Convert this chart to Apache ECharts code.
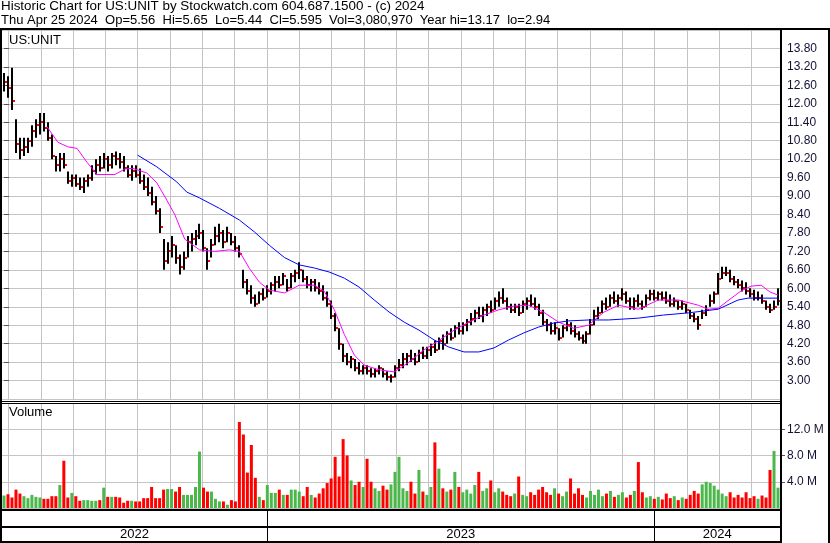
<!DOCTYPE html>
<html>
<head>
<meta charset="utf-8">
<script src="https://cdn.jsdelivr.net/npm/echarts@6/dist/echarts.min.js"></script>
<style>
  html, body { margin: 0; padding: 0; background: #fff; }
  #chart { width: 830px; height: 543px; }
</style>
</head>
<body>
<div id="chart"></div>
<script>
// one entry per ~2.6 trading days, Apr 2022 -> Apr 25 2024
const highs = [
  13.0,12.9,13.17,11.5,10.9,10.9,10.9,11.3,11.5,11.7,
  11.7,11.4,11.0,10.3,10.4,10.4,9.8,9.7,9.7,9.6,
  9.6,9.7,10.0,10.2,10.3,10.4,10.3,10.4,10.45,10.4,
  10.3,10.0,10.0,10.0,9.9,9.7,9.6,9.3,9.0,8.6,
  7.6,7.5,7.7,7.4,7.1,7.2,7.7,7.8,7.9,8.1,
  7.9,7.3,7.6,8.0,8.1,7.9,8.0,7.8,7.7,7.4,
  6.6,6.3,6.1,5.8,5.9,6.0,6.1,6.2,6.4,6.4,
  6.5,6.3,6.5,6.6,6.85,6.6,6.4,6.3,6.3,6.2,
  6.1,5.9,5.6,5.2,4.7,4.2,3.9,3.8,3.7,3.6,
  3.5,3.5,3.4,3.4,3.5,3.4,3.3,3.2,3.5,3.7,
  3.9,3.9,4.0,3.9,4.0,4.1,4.1,4.2,4.3,4.4,
  4.5,4.6,4.7,4.8,4.9,4.9,5.0,5.2,5.3,5.4,
  5.4,5.5,5.6,5.7,5.9,6.0,5.7,5.5,5.5,5.5,
  5.6,5.7,5.8,5.7,5.5,5.3,5.0,4.9,4.9,4.7,
  4.8,5.0,4.9,4.8,4.6,4.5,4.6,5.0,5.3,5.4,
  5.6,5.7,5.8,5.9,5.8,6.0,5.9,5.7,5.7,5.8,
  5.6,5.8,5.95,5.95,5.9,5.9,5.9,5.8,5.7,5.6,
  5.6,5.5,5.3,5.2,5.1,5.3,5.45,5.8,5.9,6.5,
  6.7,6.7,6.6,6.4,6.3,6.25,6.2,6.0,5.95,5.9,
  5.8,5.6,5.5,5.6,6.0
];
const lows = [
  12.4,12.2,11.8,10.4,10.2,10.3,10.4,10.6,10.9,11.0,
  11.1,10.8,10.2,9.8,9.8,9.9,9.4,9.3,9.3,9.2,
  9.1,9.3,9.5,9.7,9.8,9.9,9.8,9.9,10.0,9.9,
  9.8,9.6,9.5,9.6,9.4,9.2,9.0,8.7,8.4,7.8,
  6.6,6.8,7.0,6.8,6.45,6.6,7.0,7.2,7.4,7.6,
  7.2,6.6,7.0,7.4,7.5,7.3,7.5,7.4,7.2,7.0,
  6.0,5.8,5.5,5.4,5.5,5.6,5.7,5.8,5.9,6.0,
  6.1,5.9,6.0,6.2,6.3,6.2,6.0,5.9,5.9,5.8,
  5.6,5.4,5.0,4.6,4.0,3.6,3.5,3.4,3.3,3.2,
  3.2,3.2,3.1,3.1,3.2,3.1,3.0,2.94,3.1,3.3,
  3.4,3.5,3.6,3.5,3.6,3.7,3.7,3.8,3.9,4.0,
  4.0,4.2,4.3,4.4,4.5,4.5,4.6,4.8,4.9,5.0,
  4.9,5.1,5.2,5.3,5.4,5.5,5.3,5.2,5.2,5.1,
  5.2,5.3,5.4,5.3,5.1,4.8,4.6,4.5,4.5,4.3,
  4.4,4.6,4.5,4.4,4.3,4.2,4.2,4.5,4.8,5.0,
  5.2,5.3,5.4,5.5,5.4,5.6,5.5,5.3,5.3,5.4,
  5.3,5.4,5.6,5.6,5.6,5.6,5.5,5.4,5.4,5.3,
  5.3,5.2,5.0,4.9,4.65,5.0,5.1,5.4,5.5,5.8,
  6.3,6.4,6.2,6.1,6.0,5.9,5.8,5.7,5.6,5.6,
  5.5,5.3,5.2,5.3,5.44
];
const closes = [
  12.7,12.5,12.1,10.7,10.5,10.6,10.8,11.1,11.3,11.4,
  11.2,10.9,10.3,10.0,10.2,10.0,9.5,9.6,9.4,9.3,
  9.5,9.6,9.8,10.0,9.9,10.2,10.0,10.3,10.2,10.1,
  9.9,9.7,9.8,9.7,9.5,9.3,9.1,8.8,8.5,8.0,
  6.9,7.2,7.4,7.0,6.7,7.0,7.5,7.6,7.7,7.8,
  7.3,6.9,7.4,7.7,7.8,7.5,7.8,7.5,7.3,7.1,
  6.2,5.9,5.7,5.5,5.8,5.7,5.9,6.1,6.2,6.1,
  6.4,6.0,6.4,6.5,6.6,6.3,6.1,6.2,6.0,5.9,
  5.7,5.5,5.1,4.7,4.2,3.8,3.6,3.7,3.4,3.3,
  3.4,3.3,3.2,3.3,3.4,3.2,3.1,3.1,3.4,3.5,
  3.7,3.8,3.7,3.6,3.9,3.8,4.0,4.1,4.0,4.3,
  4.2,4.5,4.4,4.7,4.6,4.8,4.9,5.0,5.2,5.1,
  5.3,5.4,5.3,5.6,5.7,5.6,5.4,5.3,5.4,5.2,
  5.5,5.6,5.5,5.4,5.2,4.9,4.8,4.6,4.7,4.4,
  4.7,4.8,4.6,4.5,4.4,4.3,4.5,4.8,5.1,5.2,
  5.5,5.4,5.7,5.6,5.7,5.8,5.6,5.4,5.6,5.5,
  5.4,5.7,5.8,5.7,5.8,5.7,5.6,5.5,5.6,5.4,
  5.5,5.3,5.1,5.0,4.8,5.2,5.3,5.6,5.8,6.3,
  6.5,6.5,6.3,6.2,6.1,6.0,5.9,5.8,5.7,5.7,
  5.6,5.4,5.3,5.4,5.595
];
// volume in millions of shares
const volumes = [
  1.9,2.1,1.6,2.8,2.2,1.8,1.5,2.0,1.7,1.6,
  1.4,1.4,1.8,1.8,3.5,7.2,1.6,2.3,1.8,1.1,
  1.2,1.2,1.1,1.1,1.2,3.1,1.7,1.7,1.7,1.6,
  0.8,1.1,1.1,1.0,1.0,1.5,1.5,3.2,1.5,1.5,
  2.8,2.9,2.9,2.5,3.2,2.0,2.0,2.0,3.2,8.6,
  3.1,2.5,2.5,1.4,1.0,1.0,0.5,1.2,1.0,13.1,
  11.2,5.4,9.6,4.6,1.7,1.2,3.5,2.3,2.3,2.8,
  2.0,2.0,2.8,2.8,2.5,1.8,3.2,2.0,1.6,2.2,
  3.0,3.8,4.5,7.8,4.8,10.5,8.0,4.2,3.5,4.0,
  3.2,7.5,4.0,3.0,2.6,3.4,2.8,3.6,5.5,7.8,
  3.0,2.6,4.0,2.2,5.8,2.5,2.0,3.2,10.0,6.0,
  3.0,2.5,2.8,5.5,3.2,2.4,2.8,2.2,3.5,5.5,
  2.6,3.0,4.2,2.4,3.0,2.5,2.0,1.8,2.2,4.8,
  2.0,1.8,2.4,2.0,2.8,3.2,2.4,2.0,3.0,2.2,
  1.8,2.5,4.5,2.2,3.0,2.0,1.6,2.6,2.0,2.8,
  1.8,2.2,2.6,1.7,2.0,2.4,1.6,2.0,2.6,7.0,
  2.4,1.6,1.8,1.4,1.7,1.3,2.2,1.5,1.8,1.2,
  1.6,1.4,2.0,2.6,2.2,3.6,4.0,3.8,3.4,2.8,
  2.2,1.8,2.4,1.6,2.0,1.6,2.4,1.5,1.8,1.4,
  1.9,1.6,5.8,8.7,3.1
];
// moving averages, read at bar positions (bar index, price)
const maShortAt  = [10.8,13.5,16,18.3,20.8,23.3,27.8,30.3,32.3,35.8,38.3,40.8,42.8,45.3,49,52.8,56.5,59,61.5,64,66.5,70.3,74,77.8,80.3,82.8,85.3,87.8,90.3,94,97.8,101.5,105.3,109,112.8,116.5,120.3,124,127.8,131.5,135.3,139,142.8,146.5,150.3,154,159,164,169,174,176.5,179,182.3,184.8,187.3,189.8,192,194];
const maShortVal = [11.25,10.75,10.6,10.55,10.1,9.7,9.7,9.88,9.9,9.75,9.43,8.87,8.4,7.6,7.25,7.2,7.25,7.2,6.65,6.2,5.94,5.85,6.1,6.1,5.9,5.3,4.5,3.83,3.5,3.35,3.28,3.6,4.0,4.3,4.64,4.9,5.13,5.3,5.42,5.45,5.22,4.9,4.7,4.8,5.22,5.45,5.32,5.62,5.62,5.45,5.32,5.35,5.68,5.92,6.07,6.1,5.88,5.78];
const maLongAt  = [33.5,38.3,43.3,45.8,49,54,59,62.8,66.5,70.3,74,77.8,81.5,85.3,89,92.8,96.5,100.3,104,107.8,111.5,115.3,119,122.8,126.5,130.3,134,137.8,141.5,146.5,151.5,159,165.3,171.5,179,184,186.5,194];
const maLongVal = [10.33,9.95,9.46,9.13,8.94,8.6,8.22,7.83,7.4,7.0,6.76,6.66,6.53,6.33,6.04,5.62,5.23,4.9,4.64,4.32,4.09,3.93,3.93,4.06,4.32,4.55,4.74,4.87,4.94,4.97,4.97,5.03,5.13,5.2,5.32,5.62,5.68,5.68];

const yearLabels = ['2022', '2023', '2024'];
// months counted from Jan 2022, at the left and right edge of the plot
const monthStart = 3.8;
const monthEnd = 27.88;

const headerLine1 = 'Historic Chart for US:UNIT by Stockwatch.com 604.687.1500 - (c) 2024';
const headerLine2 = 'Thu Apr 25 2024  Op=5.56  Hi=5.65  Lo=5.44  Cl=5.595  Vol=3,080,970  Year hi=13.17  lo=2.94';

const FONT = '"Liberation Sans", Arial, sans-serif';
const GRID = '#c4c4c4';
const AXIS_TEXT = '#111133';
const UP = '#4cb84c';
const DOWN = '#ff0000';

const monthTicks = [];
for (let m = Math.ceil(monthStart); m <= monthEnd; m++) monthTicks.push(m);
const yearTicks = monthTicks.filter(m => m % 12 === 0);
const yearCentres = yearLabels.map((y, k) => {
    const a = Math.max(monthStart, k * 12), b = Math.min(monthEnd, (k + 1) * 12);
    return (a + b) / 2;
});

function monthAxis(gridIndex, lineColor, ticks) {
    return {
        type: 'value', gridIndex: gridIndex, min: monthStart, max: monthEnd,
        axisLine: {show: false},
        axisLabel: {show: false},
        axisTick: {show: false, customValues: ticks},
        splitLine: {show: true, lineStyle: {color: lineColor}}
    };
}

const n = closes.length;
const ohlc = highs.map((h, i) => [i, h, lows[i], closes[i]]);

const chart = echarts.init(document.getElementById('chart'));

const frame = [
    [0, 28, 830, 2], [0, 28, 2, 515], [780, 28, 2, 515], [828, 28, 2, 515],
    [0, 401, 781, 1], [0, 403, 781, 1],
    [0, 509, 782, 2], [0, 526, 782, 2], [0, 541, 782, 2]
];

const yearAxis = monthAxis(2, '#000', yearTicks);
yearAxis.axisLabel = {
    show: true, inside: true, margin: 0, customValues: yearCentres,
    color: '#000', fontSize: 13, fontFamily: FONT,
    formatter: v => yearLabels[Math.floor(v / 12)]
};

chart.setOption({
    animation: false,
    grid: [
        {left: 2, right: 50, top: 30, height: 369},
        {left: 2, right: 50, top: 403, height: 105},
        {left: 2, right: 50, top: 511, height: 30}
    ],
    xAxis: [
        {type: 'value', gridIndex: 0, min: -0.5, max: n - 0.5, show: false},
        monthAxis(0, GRID, monthTicks),
        {type: 'category', gridIndex: 1, data: volumes.map((v, i) => i), show: false},
        monthAxis(1, GRID, monthTicks),
        yearAxis
    ],
    yAxis: [
        {
            type: 'value', gridIndex: 0, position: 'right', min: 2.4, max: 14.4, interval: 0.6,
            axisLine: {show: false},
            axisLabel: {
                margin: 7, color: AXIS_TEXT, fontSize: 12, fontFamily: FONT,
                showMinLabel: false, showMaxLabel: false,
                formatter: v => v.toFixed(2)
            },
            splitLine: {show: true, lineStyle: {color: GRID}}
        },
        {
            type: 'value', gridIndex: 1, position: 'right', min: 0, max: 16, interval: 4,
            axisLine: {show: false},
            axisLabel: {
                margin: 7, color: AXIS_TEXT, fontSize: 12, fontFamily: FONT,
                showMinLabel: false, showMaxLabel: false,
                formatter: v => v.toFixed(1) + ' M'
            },
            splitLine: {show: true, lineStyle: {color: GRID}}
        },
        {type: 'value', gridIndex: 2, show: false}
    ],
    series: [
        {
            type: 'custom', xAxisIndex: 0, yAxisIndex: 0, clip: true,
            encode: {x: 0, y: [1, 2, 3]},
            data: ohlc,
            renderItem: function (params, api) {
                const i = api.value(0);
                const top = api.coord([i, api.value(1)]);
                const bottom = api.coord([i, api.value(2)]);
                const close = api.coord([i, api.value(3)]);
                const x = Math.round(top[0]);
                return {
                    type: 'group',
                    children: [
                        {type: 'rect', shape: {x: x - 1, y: top[1], width: 2, height: Math.max(1, bottom[1] - top[1])}, style: {fill: '#000'}},
                        {type: 'rect', shape: {x: x + 1, y: Math.round(close[1]) - 1, width: 2, height: 2}, style: {fill: DOWN}}
                    ]
                };
            }
        },
        {
            type: 'line', xAxisIndex: 0, yAxisIndex: 0, showSymbol: false,
            data: maShortAt.map((x, k) => [x, maShortVal[k]]),
            lineStyle: {color: '#ff00ff', width: 1}
        },
        {
            type: 'line', xAxisIndex: 0, yAxisIndex: 0, showSymbol: false,
            data: maLongAt.map((x, k) => [x, maLongVal[k]]),
            lineStyle: {color: '#0000ff', width: 1}
        },
        {
            type: 'bar', xAxisIndex: 2, yAxisIndex: 1, barWidth: 3,
            data: volumes,
            itemStyle: {
                color: p => (p.dataIndex === 0 || closes[p.dataIndex] >= closes[p.dataIndex - 1]) ? UP : DOWN
            }
        }
    ],
    graphic: frame.map(r => ({
        type: 'rect', z: 100, silent: true,
        shape: {x: r[0], y: r[1], width: r[2], height: r[3]},
        style: {fill: '#000'}
    })).concat([
        {type: 'text', z: 100, left: 1, top: 0, style: {text: headerLine1, font: '13.4px ' + FONT, fill: '#000'}},
        {type: 'text', z: 100, left: 1, top: 14, style: {text: headerLine2, font: '13px ' + FONT, fill: '#000'}},
        {type: 'text', z: 100, left: 9, top: 34, style: {text: 'US:UNIT', font: '13px ' + FONT, fill: '#000'}},
        {type: 'text', z: 100, left: 9, top: 406, style: {text: 'Volume', font: '13px ' + FONT, fill: '#000'}}
    ])
});
</script>
</body>
</html>
